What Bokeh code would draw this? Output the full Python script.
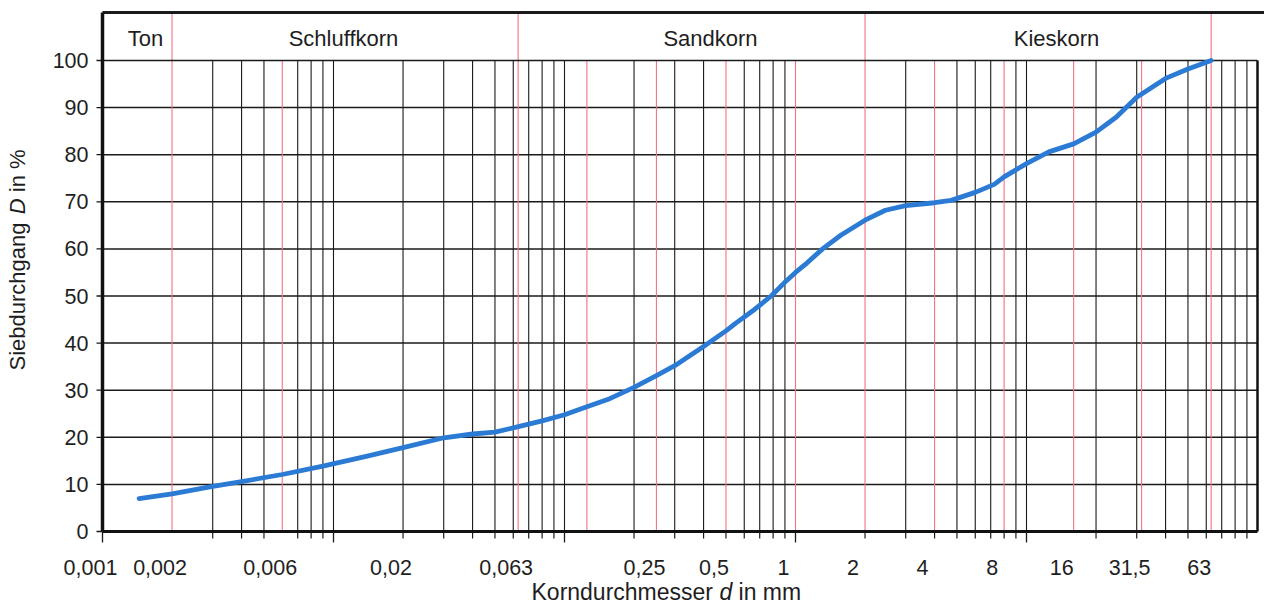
import math
from bokeh.plotting import figure
from bokeh.core.properties import value
from bokeh.embed import file_html
from bokeh.resources import INLINE

# ---------------- data ----------------
grain_mm = [0.00144, 0.002, 0.003, 0.004, 0.006, 0.009, 0.014, 0.02, 0.03, 0.04,
            0.05, 0.06, 0.08, 0.1, 0.125, 0.157, 0.2, 0.25, 0.3, 0.4,
            0.5, 0.55, 0.667, 0.785, 0.912, 1.0, 1.12, 1.31, 1.57, 2.0,
            2.45, 3.0, 4.0, 4.72, 6.0, 7.25, 8.0, 10.0, 12.5, 16.0,
            20.0, 24.5, 30.0, 40.0, 50.0, 63.0]
passing_pct = [7.0, 8.0, 9.6, 10.6, 12.1, 13.9, 16.0, 17.8, 19.9, 20.7,
               21.1, 22.0, 23.5, 24.8, 26.5, 28.2, 30.6, 33.1, 35.2, 39.3,
               42.6, 44.2, 47.2, 50.0, 53.2, 55.0, 57.0, 60.0, 62.9, 66.1,
               68.2, 69.2, 69.8, 70.3, 72.0, 73.7, 75.3, 78.1, 80.6, 82.3,
               84.8, 88.0, 92.2, 96.2, 98.2, 100.0]

tick_values = [0.001, 0.002, 0.006, 0.02, 0.063, 0.25, 0.5, 1, 2, 4, 8, 16, 31.5, 63]
tick_labels = ["0,001", "0,002", "0,006", "0,02", "0,063", "0,25", "0,5", "1", "2",
               "4", "8", "16", "31,5", "63"]
red_lines = [0.002, 0.006, 0.063, 0.125, 0.25, 0.5, 1, 2, 4, 8, 16, 31.5, 63]
zone_bounds = [0.002, 0.063, 2, 63]
zone_names = ["Ton", "Schluffkorn", "Sandkorn", "Kieskorn"]
y_ticks = list(range(0, 101, 10))
y_tick_labels = [str(v) for v in y_ticks]

# ---------------- layout helpers (pixel -> data) ----------------
FL, FB, PXDEC, PXPCT = 102, 531, 231.0, 4.71
W, H = 1264, 604
def xd(px):
    return 10 ** (-3 + (px - FL) / PXDEC)
def yd(py):
    return (FB - py) / PXPCT

X_MIN, X_MAX = 0.001, 100
Y_TOP = yd(12)
BL = 9  # baseline correction in px

p = figure(width=W, height=H, x_axis_type="log",
           x_range=(xd(0), xd(W)), y_range=(yd(H), yd(0)),
           output_backend="svg", toolbar_location=None,
           min_border=0)
p.axis.visible = False
p.xgrid.visible = False
p.ygrid.visible = False
p.outline_line_color = None
p.background_fill_color = "white"
p.border_fill_color = "white"

FONT = value("Liberation Sans")
TXT = "#1e1e1e"
INK = "#1a1a1a"

# grid values
all_grid = []
for k in range(-3, 2):
    for n in range(1, 10):
        v = round(n * 10 ** k, 6)
        if v <= 100:
            all_grid.append(v)
all_grid = [v for v in all_grid if v > X_MIN]
black_grid = [v for v in all_grid if v not in (0.002, 0.006, 0.5, 1, 2, 4, 8)]
decades = [0.001, 0.01, 0.1, 1, 10]
minor_t = [v for v in all_grid if v not in decades and v not in (0.002, 0.006)]

# vertical black grid
p.segment(x0=black_grid, x1=black_grid, y0=[0] * len(black_grid), y1=[100] * len(black_grid),
          line_color=INK, line_width=1.1)
# horizontal grid
hy = [v for v in y_ticks if 0 < v < 100]
p.segment(x0=[X_MIN] * len(hy), x1=[X_MAX] * len(hy), y0=hy, y1=hy,
          line_color=INK, line_width=1.5)

# red lines
red_top = [Y_TOP if v in zone_bounds else 100 for v in red_lines]
p.segment(x0=red_lines, x1=red_lines, y0=[0] * len(red_lines), y1=red_top,
          line_color="#f27380", line_width=1.1)

# tick marks (bottom)
t_short = yd(FB + 7)
t_long = yd(FB + 11)
p.segment(x0=minor_t, x1=minor_t, y0=[0] * len(minor_t), y1=[t_short] * len(minor_t),
          line_color=INK, line_width=1.2)
p.segment(x0=decades, x1=decades, y0=[0] * len(decades), y1=[t_long] * len(decades),
          line_color=INK, line_width=1.3)
# tick marks (left)
p.segment(x0=[xd(FL - 6)] * len(y_ticks), x1=[X_MIN] * len(y_ticks), y0=y_ticks, y1=y_ticks,
          line_color=INK, line_width=1.3)

# frame lines
p.segment(x0=[X_MIN], x1=[X_MAX], y0=[100], y1=[100], line_color=INK, line_width=1.7)
p.segment(x0=[X_MIN], x1=[xd(W)], y0=[Y_TOP], y1=[Y_TOP], line_color=INK, line_width=3)
p.segment(x0=[X_MIN], x1=[X_MAX], y0=[0], y1=[0], line_color="#111", line_width=2.8)
p.segment(x0=[X_MIN], x1=[X_MIN], y0=[0], y1=[Y_TOP], line_color="#111", line_width=3.5)
p.segment(x0=[X_MAX], x1=[X_MAX], y0=[0], y1=[100], line_color="#111", line_width=2.5)

# curve
p.line(grain_mm, passing_pct, line_color="#2b7bd4", line_width=4.8,
       line_cap="round", line_join="round")

# header zone names
zone_px = [145, 343, 710, 1056]
p.text(x=[xd(v) for v in zone_px], y=[yd(47 - BL)] * 4, text=zone_names,
       text_align="center", text_baseline="alphabetic", text_font=FONT,
       text_font_size="22px", text_color=TXT)

# y tick labels
p.text(x=[xd(FL - 14)] * len(y_ticks), y=y_ticks, text=y_tick_labels,
       text_align="right", text_baseline="middle", text_font=FONT,
       text_font_size="21.5px", text_color=TXT)

# x tick labels
p.text(x=tick_values, y=[yd(576 - BL)] * len(tick_values), text=tick_labels, x_offset=-12,
       text_align="center", text_baseline="alphabetic",
       text_font=FONT, text_font_size="21.5px", text_color=TXT)

# x axis title with italic d
fs = 23
x0 = 531
xdpos = x0 + fs * (7.891 + 0.278)
xin = xdpos + fs * (0.556 + 0.278)
p.text(x=[xd(x0), xd(xin)], y=[yd(600 - BL)] * 2, text=["Korndurchmesser", "in mm"],
       text_align="left", text_baseline="alphabetic", text_font=FONT,
       text_font_size=f"{fs}px", text_color=TXT)
p.text(x=[xd(xdpos)], y=[yd(600 - BL)], text=["d"], text_align="left",
       text_baseline="alphabetic", text_font=FONT, text_font_style="italic",
       text_font_size=f"{fs}px", text_color=TXT)

# y axis title with italic D (rotated)
fy = 22
yb = 370
xb = 27 - BL - 1  # baseline x
yD = yb - fy * (6.826 + 0.278)
yin = yD - fy * (0.722 + 0.278)
p.text(x=[xd(xb)] * 2, y=[yd(yb), yd(yin)], text=["Siebdurchgang", "in %"],
       angle=math.pi / 2, text_align="left", text_baseline="alphabetic",
       text_font=FONT, text_font_size=f"{fy}px", text_color=TXT)
p.text(x=[xd(xb)], y=[yd(yD)], text=["D"], angle=math.pi / 2,
       text_align="left", text_baseline="alphabetic", text_font=FONT,
       text_font_style="italic", text_font_size=f"{fy}px", text_color=TXT)

open("out.html", "w").write(file_html(p, INLINE))
